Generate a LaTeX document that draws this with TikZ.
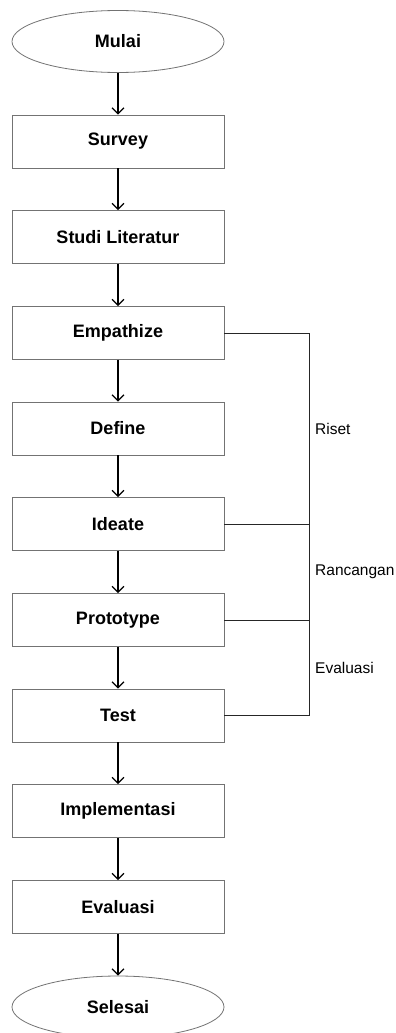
\documentclass[tikz,border=0pt]{standalone}
\usepackage{fontspec}
\setmainfont{Liberation Sans}
\usetikzlibrary{shapes.geometric,arrows.meta}
\begin{document}
\begin{tikzpicture}[x=1pt,y=-1pt,
  stepbox/.style={draw=black!55, line width=0.8pt, fill=white, minimum width=212pt, minimum height=53pt, inner sep=0pt, font=\fontsize{18}{21}\selectfont\bfseries},
  term/.style={ellipse, draw=black!55, line width=0.8pt, fill=white, minimum width=212pt, minimum height=62pt, inner sep=0pt, font=\fontsize{18}{21}\selectfont\bfseries},
  flow/.style={draw=black, line width=1.2pt, -{Straight Barb[length=6pt,width=12pt,line width=1.2pt]}},
  link/.style={draw=black!85, line width=1pt},
  lab/.style={anchor=west, inner sep=0pt, font=\fontsize{15.5}{18}\selectfont}]
\useasboundingbox (0,0) rectangle (396,1033);
\node[term] (mulai) at (118,41.5) {Mulai};
\node[stepbox] (survey) at (118,141.5) {Survey};
\node[stepbox] (studi) at (118,237) {Studi Literatur};
\node[stepbox] (emp) at (118,333) {Empathize};
\node[stepbox] (def) at (118,428.5) {Define};
\node[stepbox] (ide) at (118,524) {Ideate};
\node[stepbox] (pro) at (118,620) {Prototype};
\node[stepbox] (test) at (118,715.5) {Test};
\node[stepbox] (imp) at (118,811) {Implementasi};
\node[stepbox] (eva) at (118,907) {Evaluasi};
\node[term] (sel) at (118,1007) {Selesai};
\draw[flow] (mulai) -- (survey);
\draw[flow] (survey) -- (studi);
\draw[flow] (studi) -- (emp);
\draw[flow] (emp) -- (def);
\draw[flow] (def) -- (ide);
\draw[flow] (ide) -- (pro);
\draw[flow] (pro) -- (test);
\draw[flow] (test) -- (imp);
\draw[flow] (imp) -- (eva);
\draw[flow] (eva) -- (sel);
\coordinate (r1) at (309,333);
\coordinate (r2) at (309,524);
\coordinate (r3) at (309,620);
\coordinate (r4) at (309,715.5);
\draw[link] (emp.east) -- (r1) -- (r4) -- (test.east);
\draw[link] (ide.east) -- (r2);
\draw[link] (pro.east) -- (r3);
\node[lab] (riset) at (315,429) {Riset};
\node[lab] (ranc) at (315,572) {Rancangan};
\node[lab] (evl) at (315,668) {Evaluasi};
\end{tikzpicture}
\end{document}
